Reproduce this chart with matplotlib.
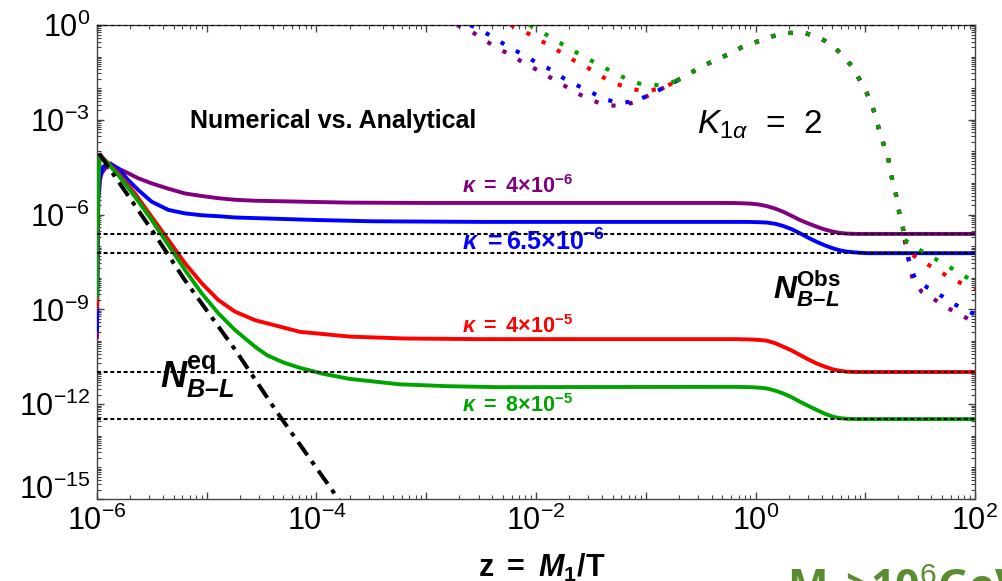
import numpy as np
import matplotlib
matplotlib.use("Agg")
import matplotlib.pyplot as plt
from matplotlib.ticker import FixedLocator, LogLocator, FuncFormatter, NullFormatter

plt.rcParams["font.family"] = ["Liberation Sans", "DejaVu Sans"]
plt.rcParams["mathtext.fontset"] = "custom"
plt.rcParams["mathtext.rm"] = "Liberation Sans"
plt.rcParams["mathtext.it"] = "Liberation Sans:italic"
plt.rcParams["mathtext.bf"] = "Liberation Sans:bold"
plt.rcParams["mathtext.bfit"] = "Liberation Sans:italic:bold"

# ── Data (log10 z, log10 N) ──────────────────────────────────────────────────

KAPPA_LABELS = [r"$\mathbfit{\kappa}\ \mathbf{=\ 4{\times}10^{-6}}$",
                r"$\mathbfit{\kappa}\ \mathbf{{=}6.5{\times}10^{-6}}$",
                r"$\mathbfit{\kappa}\ \mathbf{=\ 4{\times}10^{-5}}$",
                r"$\mathbfit{\kappa}\ \mathbf{=\ 8{\times}10^{-5}}$"]

# numerical solutions (solid)
PURPLE_LZ = [-6.0, -5.995, -5.988, -5.973, -5.957, -5.927, -5.88, -5.806, -5.715, -5.624,
             -5.502, -5.35, -5.198, -5.046, -4.895, -4.743, -4.56, -4.0, -3.7, -3.0,
             -0.35, -0.2, -0.05, 0.03, 0.102, 0.18, 0.253, 0.33, 0.405, 0.48, 0.557, 0.63,
             0.709, 0.77, 0.83, 0.92, 1.013, 2.0]
PURPLE_LN = [-9.87, -7.5, -5.43, -4.91, -4.69, -4.54, -4.45, -4.54, -4.69, -4.85,
             -5.01, -5.18, -5.33, -5.41, -5.48, -5.53, -5.56, -5.60, -5.62, -5.63,
             -5.63, -5.632, -5.65, -5.68, -5.73, -5.81, -5.91, -6.04, -6.17, -6.28, -6.38, -6.47,
             -6.54, -6.58, -6.60, -6.61, -6.61, -6.61]

BLUE_LZ = [-6.0, -5.995, -5.988, -5.973, -5.943, -5.88, -5.806, -5.715, -5.624, -5.502,
           -5.35, -5.198, -5.046, -4.895, -4.743, -4.56, -4.0, -3.5, -2.5,
           -0.2, -0.05, 0.03, 0.102, 0.18, 0.253, 0.33, 0.405, 0.48, 0.557, 0.63,
           0.709, 0.77, 0.83, 0.92, 1.013, 2.0]
BLUE_LN = [-9.65, -7.5, -5.43, -4.80, -4.48, -4.38, -4.54, -4.91, -5.22, -5.59,
           -5.85, -5.96, -6.02, -6.05, -6.09, -6.11, -6.17, -6.21, -6.23,
           -6.23, -6.232, -6.24, -6.25, -6.29, -6.36, -6.46, -6.59, -6.73, -6.86, -6.97,
           -7.07, -7.13, -7.17, -7.20, -7.22, -7.22]

RED_LZ = [-6.0, -5.997, -5.99, -5.982, -5.973, -5.806, -5.654, -5.502, -5.35, -5.198,
          -5.046, -4.895, -4.743, -4.56, -4.45, -4.15, -3.695, -3.2, -2.5,
          -0.2, -0.05, 0.03, 0.102, 0.18, 0.253, 0.33, 0.405, 0.48, 0.557, 0.63,
          0.709, 0.77, 0.83, 0.92, 1.013, 2.0]
RED_LN = [-8.92, -7.0, -5.3, -4.5, -4.11, -4.69, -5.33, -6.07, -6.80, -7.54,
          -8.17, -8.70, -9.07, -9.34, -9.44, -9.71, -9.86, -9.92, -9.94,
          -9.94, -9.95, -9.965, -9.99, -10.07, -10.18, -10.30, -10.44, -10.58, -10.71, -10.81,
          -10.90, -10.94, -10.97, -10.98, -10.98, -10.98]

GREEN_LZ = [-6.0, -5.997, -5.99, -5.982, -5.973, -5.806, -5.654, -5.502, -5.35, -5.198,
            -5.046, -4.895, -4.743, -4.56, -4.45, -4.3, -4.15, -3.95, -3.695, -3.24, -2.8, -2.33,
            -0.2, -0.05, 0.03, 0.102, 0.18, 0.253, 0.33, 0.405, 0.48, 0.557, 0.63,
            0.709, 0.77, 0.83, 0.92, 1.013, 2.0]
GREEN_LN = [-8.6, -7.0, -5.3, -4.5, -4.11, -4.75, -5.43, -6.17, -6.96, -7.75,
            -8.49, -9.12, -9.65, -10.18, -10.45, -10.68, -10.85, -11.03, -11.2, -11.37, -11.43, -11.46,
            -11.45, -11.46, -11.475, -11.50, -11.57, -11.66, -11.78, -11.92, -12.05, -12.18, -12.30,
            -12.40, -12.44, -12.46, -12.47, -12.47, -12.47]

# equilibrium abundance (dash-dot)
EQ_LZ = [-5.98, -5.5, -5.2, -4.74, -4.36, -3.76]
EQ_LN = [-4.07, -6.49, -8.07, -10.28, -12.25, -15.2]

# analytical solutions (dotted): own head, shared trunk, own tail
PURPLE_HEAD_LZ = [-2.72, -2.58, -2.47, -2.35, -2.23, -2.11, -1.99, -1.86, -1.75, -1.63, -1.50, -1.37, -1.24, -1.10, -0.97, -0.84]
PURPLE_HEAD_LN = [0.0, -0.22, -0.48, -0.73, -0.95, -1.20, -1.42, -1.68, -1.90, -2.15, -2.37, -2.53, -2.56, -2.44, -2.22, -1.99]
BLUE_HEAD_LZ = [-2.60, -2.47, -2.35, -2.23, -2.11, -1.99, -1.86, -1.75, -1.63, -1.50, -1.38, -1.24, -1.10, -0.97, -0.84]
BLUE_HEAD_LN = [0.0, -0.22, -0.48, -0.73, -0.95, -1.20, -1.42, -1.68, -1.90, -2.12, -2.34, -2.47, -2.41, -2.22, -1.99]
RED_HEAD_LZ = [-2.23, -2.11, -1.99, -1.86, -1.75, -1.63, -1.51, -1.39, -1.26, -1.13, -0.99, -0.84]
RED_HEAD_LN = [0.0, -0.19, -0.44, -0.67, -0.92, -1.17, -1.39, -1.65, -1.87, -2.03, -2.09, -1.99]
GREEN_HEAD_LZ = [-2.06, -1.99, -1.87, -1.75, -1.64, -1.52, -1.39, -1.26, -1.14, -1.01, -0.86]
GREEN_HEAD_LN = [0.0, -0.13, -0.38, -0.63, -0.85, -1.08, -1.33, -1.55, -1.77, -1.90, -1.90]

TRUNK_LZ = [-0.72, -0.61, -0.48, -0.35, -0.22, -0.11, 0.03, 0.16, 0.31, 0.45, 0.59, 0.71, 0.80,
            0.89, 0.95, 1.01, 1.06, 1.10, 1.13, 1.17, 1.21, 1.23, 1.26, 1.29, 1.31, 1.34, 1.36]
TRUNK_LN = [-1.77, -1.55, -1.30, -1.08, -0.89, -0.67, -0.51, -0.35, -0.25, -0.25, -0.41, -0.67, -0.98,
            -1.36, -1.74, -2.12, -2.53, -2.94, -3.39, -3.80, -4.21, -4.65, -5.10, -5.51, -5.95, -6.36, -6.80]

PURPLE_TAIL_LZ = [1.435, 1.517, 1.636, 1.754, 1.873, 1.991, 2.0]
PURPLE_TAIL_LN = [-8.10, -8.45, -8.70, -8.96, -9.18, -9.40, -9.42]
BLUE_TAIL_LZ = [1.408, 1.462, 1.572, 1.699, 1.809, 1.936, 2.0]
BLUE_TAIL_LN = [-7.66, -8.07, -8.32, -8.58, -8.83, -9.05, -9.16]
RED_TAIL_LZ = [1.408, 1.526, 1.645, 1.763, 1.891, 2.0]
RED_TAIL_LN = [-7.22, -7.50, -7.72, -7.98, -8.20, -8.35]
GREEN_TAIL_LZ = [1.481, 1.608, 1.718, 1.845, 1.964, 2.0]
GREEN_TAIL_LN = [-7.09, -7.34, -7.56, -7.82, -8.07, -8.14]

# observed-abundance reference levels (black dotted)
REF_LEVELS = [0.0, -6.61, -7.22, -10.98, -12.47]

PURPLE = "#800080"
BLUE = "#0000FF"
RED = "#FF0000"
GREEN = "#00A400"


def p10(a):
    return 10.0 ** np.asarray(a, dtype=float)


fig = plt.figure(figsize=(10.03, 5.81), dpi=100)
ax = fig.add_axes([0.0967, 0.1411, 0.8754, 0.8158])
ax.set_xscale("log")
ax.set_yscale("log")
ax.set_xlim(1e-6, 1e2)
ax.set_ylim(1e-15, 1e0)

# solid numerical curves
for lz, ln, col in [(PURPLE_LZ, PURPLE_LN, PURPLE), (BLUE_LZ, BLUE_LN, BLUE),
                    (RED_LZ, RED_LN, RED), (GREEN_LZ, GREEN_LN, GREEN)]:
    ax.plot(p10(lz), p10(ln), color=col, lw=2.8, zorder=3, solid_joinstyle="round")

# dotted analytical curves (trunk drawn separately so the dots coincide)
dot_style = dict(lw=3.0, linestyle=(0, (1.0, 3.2)), dash_capstyle="butt", zorder=4)
dotted = [(PURPLE_HEAD_LZ, PURPLE_HEAD_LN, PURPLE_TAIL_LZ, PURPLE_TAIL_LN, PURPLE),
          (BLUE_HEAD_LZ, BLUE_HEAD_LN, BLUE_TAIL_LZ, BLUE_TAIL_LN, BLUE),
          (RED_HEAD_LZ, RED_HEAD_LN, RED_TAIL_LZ, RED_TAIL_LN, RED),
          (GREEN_HEAD_LZ, GREEN_HEAD_LN, GREEN_TAIL_LZ, GREEN_TAIL_LN, GREEN)]
for hz, hn, tz, tn, col in dotted:
    ax.plot(p10(list(hz) + TRUNK_LZ[:1]), p10(list(hn) + TRUNK_LN[:1]), color=col, **dot_style)
    ax.plot(p10(TRUNK_LZ), p10(TRUNK_LN), color=col, **dot_style)
    ax.plot(p10(TRUNK_LZ[-1:] + list(tz)), p10(TRUNK_LN[-1:] + list(tn)), color=col, **dot_style)

# equilibrium
ax.plot(p10(EQ_LZ), p10(EQ_LN), color="black", lw=2.9,
        linestyle=(0, (4.0, 1.8, 1.1, 1.8)), zorder=5)

# reference lines
for lv in REF_LEVELS:
    ax.axhline(10.0 ** lv, color="black", lw=1.5, linestyle=(0, (1.9, 1.3)), zorder=6)

# ── Ticks / frame ─────────────────────────────────────────────────────────────
TICK_FS = 22
ax.xaxis.set_major_locator(LogLocator(base=10, numticks=20))
ax.xaxis.set_minor_locator(LogLocator(base=10, subs=np.arange(2, 10), numticks=100))


def xfmt(v, _):
    e = int(round(np.log10(v)))
    return rf"$10^{{{e}}}$" if e % 2 == 0 else ""


def yfmt(v, _):
    e = int(round(np.log10(v)))
    return rf"$10^{{{e}}}$" if e > -15 else ""


ax.xaxis.set_major_formatter(FuncFormatter(xfmt))
ax.xaxis.set_minor_formatter(NullFormatter())
ax.yaxis.set_major_locator(FixedLocator([10.0 ** e for e in range(-15, 1, 3)]))
ax.yaxis.set_major_formatter(FuncFormatter(yfmt))
ax.yaxis.set_minor_locator(LogLocator(base=10, subs=np.arange(1, 10), numticks=100))
ax.yaxis.set_minor_formatter(NullFormatter())

ax.tick_params(which="both", direction="in", top=True, right=True, colors="#444444",
               labelcolor="black", labelsize=TICK_FS)
ax.tick_params(which="major", length=5, width=1.0)
ax.tick_params(which="minor", length=3, width=0.8)
ax.tick_params(axis="x", pad=5)
ax.tick_params(axis="y", pad=5)
for sp in ax.spines.values():
    sp.set_color("#444444")
    sp.set_linewidth(1.0)

# lowest y label nudged up, clear of the x labels
fig.text(91 / 1003, 1 - 490 / 581, r"$10^{-15}$", fontsize=TICK_FS, ha="right", va="center")

# ── Annotations ───────────────────────────────────────────────────────────────
ax.text(10 ** -5.153, 10 ** -3.04, "Numerical vs. Analytical", fontsize=18,
        fontweight="bold", ha="left", va="center")
ax.text(10 ** -0.533, 10 ** -3.42, r"$K_{1\alpha}$  =  2", fontsize=24, ha="left", va="baseline")

kappa_pos = [(-2.674, -5.32), (-2.674, -7.12), (-2.674, -9.75), (-2.674, -12.25)]
kappa_fs = [15.5, 18, 15.5, 15.5]
for (lz, ln), lab, col, fs in zip(kappa_pos, KAPPA_LABELS, [PURPLE, BLUE, RED, GREEN], kappa_fs):
    ax.text(10 ** lz, 10 ** ln, lab, color=col, fontsize=fs, ha="left", va="baseline")

ax.text(10 ** -5.426, 10 ** -11.49, r"$\mathbfit{N}^{\mathbf{eq}}_{\mathbfit{B–L}}$",
        fontsize=26, ha="left", va="baseline")
ax.text(10 ** 0.16, 10 ** -8.64, r"$\mathbfit{N}^{\mathbf{Obs}}_{\mathbfit{B–L}}$",
        fontsize=23, ha="left", va="baseline")

fig.text(0.540, 1 - 568 / 581, r"$\mathbf{z\ =\ }\mathbfit{M}_{\mathbf{1}}\mathbf{/T}$",
         fontsize=22, ha="center", va="center")
fig.text(787 / 1003, 1 - 564 / 581, r"M$_{1}$>10$^{6}$GeV", fontsize=31, fontweight="bold",
         family="Open Sans", color="#5B8C32", ha="left", va="top")

fig.savefig("out.png", dpi=100)
